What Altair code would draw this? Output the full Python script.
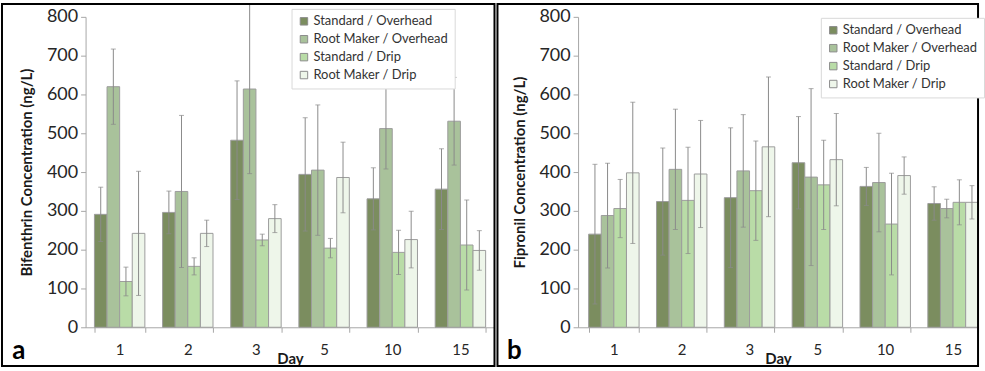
import altair as alt
import pandas as pd

days = ["1", "2", "3", "5", "10", "15"]
series = ["Standard / Overhead", "Root Maker / Overhead", "Standard / Drip", "Root Maker / Drip"]
colors = ["#7b8d5f", "#a9c29b", "#b9dca7", "#eef6ea"]

# Bifenthrin (panel a): mean and error half-width per series, by day
bif_so = [291, 296, 482, 394, 331, 356]
bif_so_err = [70, 55, 153, 146, 80, 104]
bif_ro = [620, 350, 614, 405, 512, 531]
bif_ro_err = [97, 196, 218, 168, 104, 113]
bif_sd = [118, 157, 225, 204, 193, 212]
bif_sd_err = [37, 22, 15, 25, 57, 116]
bif_rd = [242, 242, 280, 386, 226, 198]
bif_rd_err = [160, 34, 36, 91, 73, 51]

# Fipronil (panel b)
fip_so = [240, 324, 334, 424, 363, 319]
fip_so_err = [180, 138, 180, 119, 49, 43]
fip_ro = [288, 407, 403, 387, 373, 306]
fip_ro_err = [135, 155, 145, 228, 127, 24]
fip_sd = [306, 327, 352, 367, 266, 322]
fip_sd_err = [75, 137, 128, 115, 131, 58]
fip_rd = [398, 395, 465, 432, 391, 322]
fip_rd_err = [182, 138, 180, 119, 48, 43]

y_ticks = [0, 100, 200, 300, 400, 500, 600, 700, 800]

FONT = "Lato"


def make_df(vals, errs):
    rows = []
    for s, v, e in zip(series, vals, errs):
        for d, vv, ee in zip(days, v, e):
            rows.append({"Day": d, "Series": s, "value": vv, "lo": vv - ee, "hi": vv + ee})
    return pd.DataFrame(rows)


df_a = make_df([bif_so, bif_ro, bif_sd, bif_rd], [bif_so_err, bif_ro_err, bif_sd_err, bif_rd_err])
df_b = make_df([fip_so, fip_ro, fip_sd, fip_rd], [fip_so_err, fip_ro_err, fip_sd_err, fip_rd_err])


def panel(df, ytitle, letter, width, frame_x, frame_x2, leg_x, leg_y, xscale):
    x = alt.X("Day:N", sort=days, scale=xscale,
              axis=alt.Axis(title="Day", labelAngle=0, tickBand="extent",
                            labelFontSize=15, labelPadding=10, titleFontSize=15,
                            titleFontWeight="bold", titlePadding=-6))
    xo = alt.XOffset("Series:N", sort=series, scale=alt.Scale(paddingInner=0, paddingOuter=0))
    yscale = alt.Scale(domain=[0, 800])
    yaxis = alt.Axis(title=ytitle, values=y_ticks, grid=False, labelOverlap=False,
                     labelFontSize=18, labelPadding=3, titleFontSize=15,
                     titleFontWeight="bold", titlePadding=12)
    base = alt.Chart(df)
    bars = base.mark_bar(stroke="#9c9c9c", strokeWidth=1).encode(
        x=x, xOffset=xo,
        y=alt.Y("value:Q", scale=yscale, axis=yaxis),
        color=alt.Color("Series:N", sort=series,
                        scale=alt.Scale(domain=series, range=colors),
                        legend=alt.Legend(orient="none", legendX=leg_x, legendY=leg_y, title=None,
                                          strokeColor="#d9d9d9", fillColor="white", padding=6,
                                          labelFontSize=13, labelFont=FONT, labelColor="#333333",
                                          symbolType="square", symbolSize=56,
                                          symbolStrokeColor="#8c8c8c", symbolStrokeWidth=1,
                                          rowPadding=4, labelLimit=300, labelOffset=3)),
    )
    rule = base.mark_rule(color="#8a8a8a", strokeWidth=1).encode(
        x=x, xOffset=xo, y=alt.Y("lo:Q", scale=yscale, axis=yaxis), y2="hi:Q")
    cap_hi = base.mark_tick(color="#8a8a8a", size=5, thickness=1).encode(
        x=x, xOffset=xo, y=alt.Y("hi:Q", scale=yscale, axis=yaxis))
    cap_lo = base.mark_tick(color="#8a8a8a", size=5, thickness=1).encode(
        x=x, xOffset=xo, y=alt.Y("lo:Q", scale=yscale, axis=yaxis))
    one = pd.DataFrame({"k": [0]})
    frame = alt.Chart(one).mark_rect(fill="transparent", stroke="black", strokeWidth=2).encode(
        x=alt.value(frame_x), x2=alt.value(frame_x2), y=alt.value(-13), y2=alt.value(351))
    lab = alt.Chart(one).mark_text(text=letter, fontSize=26, fontWeight="bold", font=FONT,
                                   color="black", align="center", baseline="middle").encode(
        x=alt.value(frame_x + 17), y=alt.value(336))
    return alt.layer(bars, rule, cap_hi, cap_lo, frame, lab).properties(width=width, height=312)


left = panel(df_a, "Bifenthrin Concentration (ng/L)", "a", 411, -84, 411, 207, -8,
             alt.Scale(paddingInner=0.26, paddingOuter=0.13))
right = panel(df_b, "Fipronil Concentration (ng/L)", "b", 402, -81, 402, 244, 1,
              alt.Scale(paddingInner=0.26, paddingOuter=0.078, align=1))

chart = alt.hconcat(left, right, spacing=1).resolve_legend(color="independent").properties(
    padding={"left": 1, "top": 2, "right": 0, "bottom": 0},
    background="white",
).configure_view(stroke=None).configure_axis(
    labelFont=FONT, titleFont=FONT, domainColor="#a6a6a6", tickColor="#a6a6a6",
    labelColor="#262626", titleColor="#1a1a1a", tickSize=5,
)

chart.save("out.html", embed_options={"renderer": "svg", "actions": False})
